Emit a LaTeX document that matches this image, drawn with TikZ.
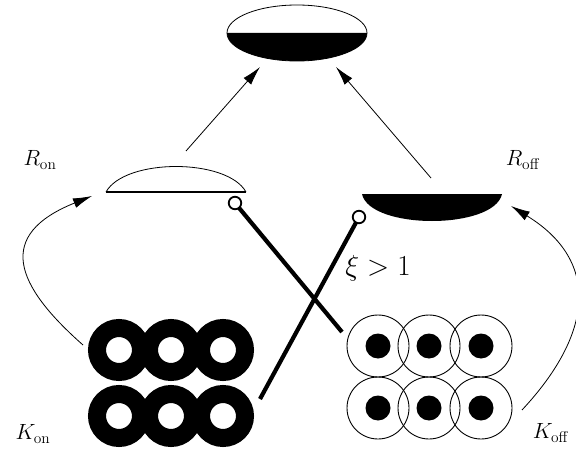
\RequirePackage{fix-cm}
\documentclass[tikz,border=0pt]{standalone}
\usetikzlibrary{arrows.meta}
\begin{document}
\begin{tikzpicture}[x=1pt,y=-1pt,
  outline/.style={line width=0.8pt},
  flow/.style={line width=0.8pt,-{Latex[length=19pt,width=10pt]}},
  stick/.style={line width=4.2pt},
  pin/.style={circle,draw,line width=1.8pt,fill=white,minimum size=12.5pt,inner sep=0pt},
  lbl/.style={font=\fontsize{22}{26}\selectfont,inner sep=0pt},
  biglbl/.style={font=\fontsize{29}{34}\selectfont,inner sep=0pt},
  darkring/.style={draw,line width=18pt},
  lightring/.style={draw,line width=0.9pt},
  core/.style={fill=black}]
\useasboundingbox (0,0) rectangle (576,452);
\begin{scope}
\clip (0,0) rectangle (576,452);

% top state: ellipse, lower half filled
\coordinate (top) at (297,33);
\fill[white] (top) ellipse[x radius=70,y radius=28];
\fill[black] (227,33) arc[start angle=180,end angle=0,x radius=70,y radius=28] -- cycle;
\draw[outline] (top) ellipse[x radius=70,y radius=28];

% R_on: open dome with thick base
\coordinate (ron) at (176,178);
\draw[outline] (106,192) .. controls (125,158) and (227,158) .. (246,192);
\draw[line width=2pt] (106,192) -- (246,192);

% R_off: filled bowl
\coordinate (roff) at (432,205);
\fill[black] (362,194) .. controls (370,230) and (494,230) .. (502,194) -- cycle;

% K_on: dark rings
\foreach \px in {119,171,223}
  \foreach \py in {350,416}
    \draw[darkring] (\px,\py) circle[radius=22];
\coordinate (kon) at (171,383);

% K_off: light rings with filled cores
\foreach \px in {378,429,481}
  \foreach \py in {346,408}
  {
    \draw[lightring] (\px,\py) circle[radius=31];
    \fill[core] (\px,\py) circle[radius=12.5];
  }
\coordinate (koff) at (429,377);

% links between states
\coordinate (ronTop) at (186,151);
\coordinate (roffTop) at (431,178);
\coordinate (topL) at (260,67);
\coordinate (topR) at (336,67);
\draw[flow] (ronTop) -- (topL);
\draw[flow] (roffTop) -- (topR);

\coordinate (konOut) at (83,345);
\coordinate (ronIn) at (92,196);
\draw[flow] (konOut) .. controls (15,285) and (-5,235) .. (ronIn);

\coordinate (koffOut) at (522,410);
\coordinate (roffIn) at (511,206);
\draw[flow] (koffOut) .. controls (592,335) and (602,262) .. (roffIn);

% crossed sticks with pins
\coordinate (onStickEnd) at (342,332);
\coordinate (offStickEnd) at (260,399);
\draw[stick] (235,203) -- (onStickEnd);
\draw[stick] (359,217) -- (offStickEnd);
\node[pin] (onPin) at (235,203) {};
\node[pin] (offPin) at (359,217) {};

% labels
\node[lbl] (lron) at (40,160) {$R_{\mathrm{on}}$};
\node[lbl] (lroff) at (523,160) {$R_{\mathrm{off}}$};
\node[lbl] (lkon) at (33,434) {$K_{\mathrm{on}}$};
\node[lbl] (lkoff) at (551,433) {$K_{\mathrm{off}}$};
\node[biglbl] (xi) at (378,268) {$\xi > 1$};
\end{scope}
\end{tikzpicture}
\end{document}
